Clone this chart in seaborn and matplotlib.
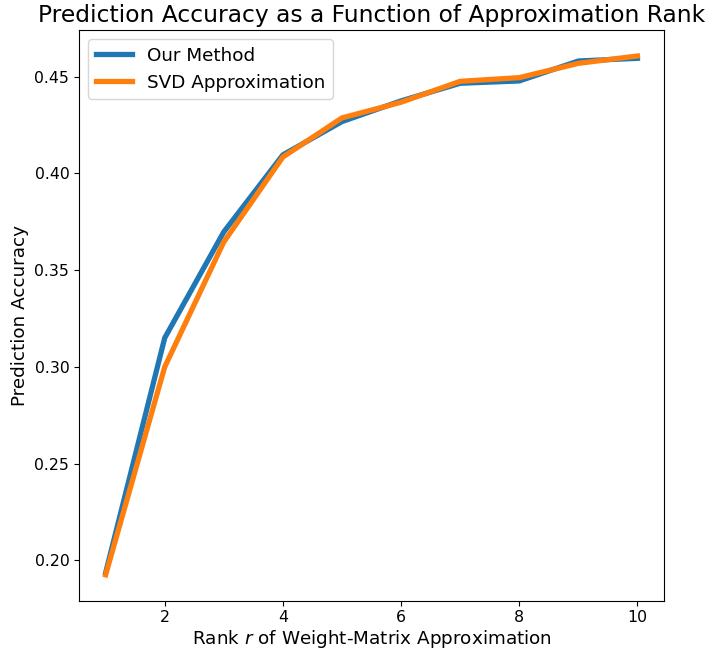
import matplotlib
matplotlib.use("Agg")
import matplotlib.pyplot as plt
import seaborn as sns
import pandas as pd

ranks = [1, 2, 3, 4, 5, 6, 7, 8, 9, 10]
our_method = [0.1936, 0.315, 0.3698, 0.4096, 0.4268, 0.4375, 0.4466, 0.4478, 0.4581, 0.4595]
svd_approx = [0.1926, 0.300, 0.3646, 0.4085, 0.4287, 0.4368, 0.4476, 0.4495, 0.4569, 0.4607]

df = pd.DataFrame({
    "rank": ranks * 2,
    "acc": our_method + svd_approx,
    "method": ["Our Method"] * len(ranks) + ["SVD Approximation"] * len(ranks),
})

fig = plt.figure(figsize=(7.12, 6.53), dpi=100)
ax = fig.add_axes([0.111, 0.080, 0.8216, 0.874])
sns.lineplot(data=df, x="rank", y="acc", hue="method",
             palette=["#1f77b4", "#ff7f0e"], linewidth=3.8, ax=ax)
ax.set_title("Prediction Accuracy as a Function of Approximation Rank", fontsize=16.8)
ax.set_xlabel("Rank $r$ of Weight-Matrix Approximation", fontsize=13.2, labelpad=2)
ax.set_ylabel("Prediction Accuracy", fontsize=13.2)
ax.tick_params(labelsize=11.3)
ax.legend(title=None, fontsize=13.2, loc="upper left")
fig.savefig("out.png", dpi=100)
